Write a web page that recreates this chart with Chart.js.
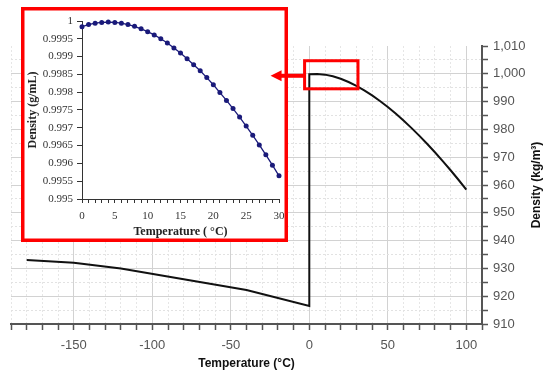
<!DOCTYPE html>
<html>
<head>
<meta charset="utf-8">
<script src="https://cdn.jsdelivr.net/npm/chart.js@4.4.1/dist/chart.umd.min.js"></script>
<style>
  html, body { margin: 0; padding: 0; background: #ffffff; }
  #wrap { position: relative; width: 552px; height: 375px; overflow: hidden; }
  #main { position: absolute; left: 0; top: 0; }
  #inset { position: absolute; left: 24px; top: 10px; }
</style>
</head>
<body>
<div id="wrap">
  <canvas id="main" width="552" height="375"></canvas>
  <canvas id="inset" width="261" height="229"></canvas>
</div>
<script>
// ---- Main chart data: density of ice and water (kg/m³) vs temperature (°C)
const iceTemp    = [-180, -150, -120, -40, 0];
const iceDensity = [933.0, 932.0, 930.0, 922.2, 916.5];
const waterTemp    = [0, 5, 10, 15, 20, 25, 30, 35, 40, 45, 50, 55, 60, 65, 70, 75, 80, 85, 90, 95, 100];
const waterDensity = [999.84, 999.97, 999.70, 999.10, 998.21, 997.05, 995.65, 994.03, 992.22, 990.21,
                      988.04, 985.69, 983.20, 980.55, 977.76, 974.84, 971.79, 968.61, 965.31, 961.89, 958.35];
const mainXLabels = [-150, -100, -50, 0, 50, 100];
const mainYLabels = [910, 920, 930, 940, 950, 960, 970, 980, 990, 1000, 1010];

// ---- Inset data: density of water (g/mL), 0–30 °C
const insetTemp    = [0, 1, 2, 3, 4, 5, 6, 7, 8, 9, 10, 11, 12, 13, 14, 15, 16, 17, 18, 19, 20,
                      21, 22, 23, 24, 25, 26, 27, 28, 29, 30];
const insetDensity = [0.99984, 0.99990, 0.99994, 0.99996, 0.99997, 0.99996, 0.99994, 0.99990, 0.99985, 0.99978,
                      0.99970, 0.99961, 0.99950, 0.99938, 0.99924, 0.99910, 0.99894, 0.99877, 0.99860, 0.99841,
                      0.99821, 0.99799, 0.99777, 0.99754, 0.99730, 0.99705, 0.99679, 0.99652, 0.99624, 0.99595,
                      0.99565];
const insetXLabels = [0, 5, 10, 15, 20, 25, 30];

// highlighted region on main chart (data coordinates)
const highlight = { xMin: -3, xMax: 31, yMin: 994.6, yMax: 1004.7 };

const mainPoints = iceTemp.map((t, i) => ({ x: t, y: iceDensity[i] }))
  .concat(waterTemp.map((t, i) => ({ x: t, y: waterDensity[i] })));
const insetPoints = insetTemp.map((t, i) => ({ x: t, y: insetDensity[i] }));

const SANS = "'Liberation Sans', Arial, sans-serif";
const SERIF = "'Liberation Serif', 'Times New Roman', serif";

const overlayPlugin = {
  id: 'overlay',
  afterDraw(chart) {
    const ctx = chart.ctx;
    const xs = chart.scales.x, ys = chart.scales.y;
    ctx.save();
    // inset panel
    ctx.fillStyle = '#ffffff';
    ctx.fillRect(21, 7, 267, 235);
    ctx.strokeStyle = '#ff0000';
    ctx.lineWidth = 3.5;
    ctx.strokeRect(22.75, 8.75, 263.5, 231.5);
    // highlight box
    const hx1 = xs.getPixelForValue(highlight.xMin), hx2 = xs.getPixelForValue(highlight.xMax);
    const hy1 = ys.getPixelForValue(highlight.yMax), hy2 = ys.getPixelForValue(highlight.yMin);
    ctx.lineWidth = 3;
    ctx.strokeRect(hx1, hy1, hx2 - hx1, hy2 - hy1);
    // arrow
    const my = (hy1 + hy2) / 2 + 1;
    const tip = hx1 - 34;
    ctx.fillStyle = '#ff0000';
    ctx.fillRect(tip + 10, my - 2, hx1 - tip - 10, 4);
    ctx.beginPath();
    ctx.moveTo(tip, my);
    ctx.lineTo(tip + 11, my - 5.5);
    ctx.lineTo(tip + 11, my + 5.5);
    ctx.closePath();
    ctx.fill();
    // right axis title (reads bottom to top)
    const ca = chart.chartArea;
    ctx.translate(537, (ca.top + ca.bottom) / 2);
    ctx.rotate(-Math.PI / 2);
    ctx.fillStyle = '#111111';
    ctx.font = 'bold 12px ' + SANS;
    ctx.textAlign = 'center';
    ctx.textBaseline = 'middle';
    ctx.fillText('Density (kg/m³)', 0, 0);
    ctx.restore();
  }
};

new Chart(document.getElementById('main'), {
  type: 'line',
  data: {
    datasets: [{
      data: mainPoints,
      borderColor: '#111111',
      borderWidth: 2,
      pointRadius: 0,
      tension: 0,
      fill: false
    }]
  },
  options: {
    responsive: false,
    animation: false,
    devicePixelRatio: 1,
    layout: { padding: { left: 11, top: 46, right: 0, bottom: 0 } },
    plugins: { legend: { display: false }, tooltip: { enabled: false } },
    scales: {
      x: {
        type: 'linear',
        position: 'bottom',
        min: -190, max: 110,
        afterFit(s) { s.height = 51; },
        ticks: {
          stepSize: 10, autoSkip: false, maxRotation: 0,
          callback: v => mainXLabels.includes(v) ? String(v) : '',
          color: '#555555', font: { family: SANS, size: 13 }, padding: 8
        },
        grid: {
          color: c => (c.tick && c.tick.value % 50 === 0) ? '#d2d2d2' : '#e6e6e6',
          lineWidth: 1,
          tickColor: '#555555', tickLength: 6, tickWidth: 1.5, tickBorderDash: []
        },
        border: {
          color: '#555555', width: 2,
          dash: c => (c.tick && c.tick.value % 50 !== 0) ? [2, 2] : []
        },
        title: {
          display: true, text: 'Temperature (°C)', color: '#111111',
          font: { family: SANS, size: 12, weight: 'bold' }, padding: { top: 0, bottom: 4 }
        }
      },
      y: {
        type: 'linear',
        position: 'right',
        min: 910, max: 1010,
        afterFit(s) { s.width = 70; },
        ticks: {
          stepSize: 5, autoSkip: false,
          callback: v => mainYLabels.includes(v) ? v.toLocaleString('en-US') : '',
          color: '#555555', font: { family: SANS, size: 13 }, padding: 5
        },
        grid: {
          color: c => {
            if (!c.tick) return '#e0e0e0';
            if (c.tick.value === 1010) return 'rgba(0,0,0,0)';
            return c.tick.value % 10 === 0 ? '#d2d2d2' : '#e2e2e2';
          },
          lineWidth: 1,
          tickColor: '#555555', tickLength: 6, tickWidth: 1.5, tickBorderDash: []
        },
        border: {
          color: '#555555', width: 2,
          dash: c => (c.tick && c.tick.value % 10 !== 0) ? [2, 2] : []
        },
        title: { display: false }
      }
    }
  },
  plugins: [overlayPlugin]
});

new Chart(document.getElementById('inset'), {
  type: 'line',
  data: {
    datasets: [{
      data: insetPoints,
      borderColor: '#1a1a7a',
      backgroundColor: '#1a1a7a',
      borderWidth: 1.3,
      pointRadius: 2.5,
      pointBorderWidth: 0,
      pointBackgroundColor: '#1a1a7a',
      tension: 0,
      fill: false,
      clip: false
    }]
  },
  options: {
    responsive: false,
    animation: false,
    devicePixelRatio: 1,
    layout: { padding: { left: 0, top: 11, right: 6, bottom: 0 } },
    plugins: { legend: { display: false }, tooltip: { enabled: false } },
    scales: {
      x: {
        type: 'linear',
        min: 0, max: 30,
        afterFit(s) { s.height = 40; s.paddingRight = 0; s.paddingLeft = 0; },
        ticks: {
          stepSize: 1, autoSkip: false, maxRotation: 0,
          callback: v => insetXLabels.includes(v) ? String(v) : '',
          color: '#333333', font: { family: SERIF, size: 11 }, padding: 7
        },
        grid: { drawOnChartArea: false, tickColor: '#333333', tickLength: 4, tickWidth: 1 },
        border: { color: '#333333', width: 1 },
        title: {
          display: true, text: 'Temperature ( °C)', color: '#222222',
          font: { family: SERIF, size: 12, weight: 'bold' }, padding: { top: 0, bottom: 0 }
        }
      },
      y: {
        type: 'linear',
        min: 0.995, max: 1,
        afterFit(s) { s.width = 58; },
        ticks: {
          stepSize: 0.0005, autoSkip: false,
          callback: v => String(parseFloat(Number(v).toFixed(4))),
          color: '#333333', font: { family: SERIF, size: 11 }, padding: 4
        },
        grid: { drawOnChartArea: false, tickColor: '#333333', tickLength: 5, tickWidth: 1 },
        border: { color: '#333333', width: 1 },
        title: {
          display: true, text: 'Density (g/mL)', color: '#222222',
          font: { family: SERIF, size: 12, weight: 'bold' }, padding: { top: 2, bottom: 0 }
        }
      }
    }
  }
});
</script>
</body>
</html>
